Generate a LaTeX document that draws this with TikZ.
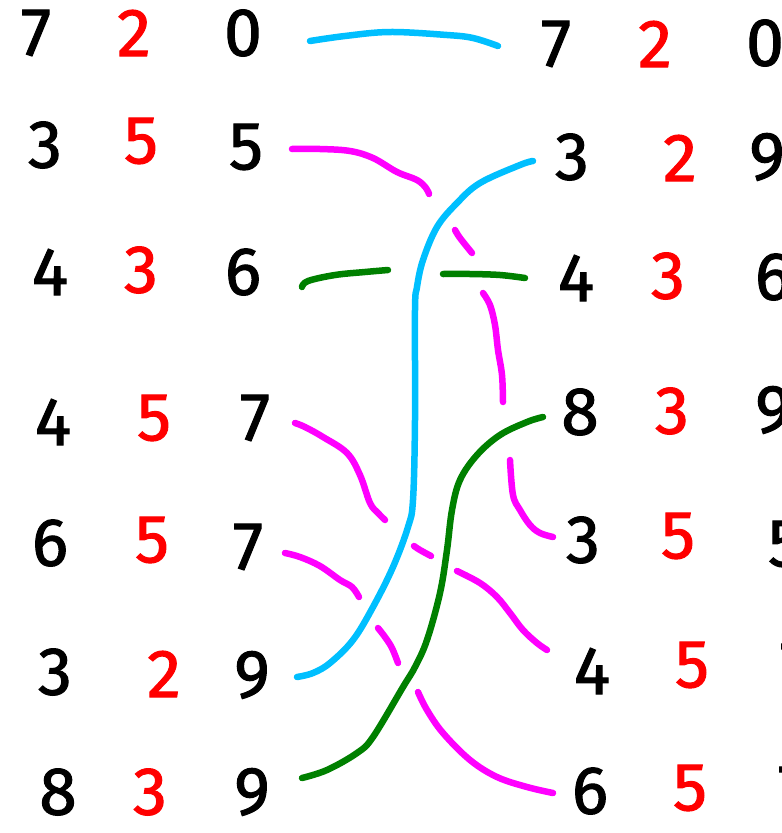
\documentclass[tikz,border=0pt]{standalone}
\usepackage{fontspec}
\setmainfont{Fira Sans}
\newfontfamily\digitfont{Fira Sans}[FakeBold=1.5]
\definecolor{linkcyan}{HTML}{00BFFF}
\definecolor{linkmag}{HTML}{FF00FF}
\definecolor{linkgreen}{HTML}{008000}
\definecolor{keyred}{HTML}{FF0000}
\begin{document}
\begin{tikzpicture}[x=1pt,y=-1pt,
  digit/.style={inner sep=0pt, anchor=center, font=\digitfont\fontsize{68}{68}\selectfont},
  keydigit/.style={digit, text=keyred},
  link/.style={line width=6.5pt, line cap=round, line join=round},
  cyanlink/.style={link, draw=linkcyan},
  maglink/.style={link, draw=linkmag},
  greenlink/.style={link, draw=linkgreen}]
\useasboundingbox (0,0) rectangle (782,833);
\clip (0,0) rectangle (782,833);
% left column
\node[digit] (L11) at (36,33) {7};   \node[keydigit] (L12) at (134,33) {2};  \node[digit] (L13) at (243,33) {0};
\node[digit] (L21) at (45,145) {3};  \node[keydigit] (L22) at (141,141) {5}; \node[digit] (L23) at (246,147) {5};
\node[digit] (L31) at (50,272) {4};  \node[keydigit] (L32) at (141,270) {3}; \node[digit] (L33) at (243,272) {6};
\node[digit] (L41) at (53,422) {4};  \node[keydigit] (L42) at (154,418) {5}; \node[digit] (L43) at (255,418) {7};
\node[digit] (L51) at (50,543) {6};  \node[keydigit] (L52) at (152,540) {5}; \node[digit] (L53) at (248,547) {7};
\node[digit] (L61) at (55,672) {3};  \node[keydigit] (L62) at (164,674) {2}; \node[digit] (L63) at (252,675) {9};
\node[digit] (L71) at (58,792) {8};  \node[keydigit] (L72) at (150,792) {3}; \node[digit] (L73) at (252,792) {9};
% right column
\node[digit] (R11) at (556,44) {7};  \node[keydigit] (R12) at (655,44) {2};  \node[digit] (R13) at (765,43) {0};
\node[digit] (R21) at (572,157) {3}; \node[keydigit] (R22) at (680,158) {2}; \node[digit] (R23) at (767,157) {9};
\node[digit] (R31) at (576,278) {4}; \node[keydigit] (R32) at (668,276) {3}; \node[digit] (R33) at (773,277) {6};
\node[digit] (R41) at (580,412) {8}; \node[keydigit] (R42) at (672,411) {3}; \node[digit] (R43) at (773,410) {9};
\node[digit] (R51) at (583,540) {3}; \node[keydigit] (R52) at (678,536) {5}; \node[digit] (R53) at (785,544) {5};
\node[digit] (R61) at (592,671) {4}; \node[keydigit] (R62) at (692,665) {5}; \node[digit] (R63) at (795,667) {7};
\node[digit] (R71) at (590,791) {6}; \node[keydigit] (R72) at (690,788) {5}; \node[digit] (R73) at (793,790) {7};
% 720 -> 720
\draw[cyanlink] plot[smooth, tension=0.6] coordinates {([shift={(67,8)}]L13.center) (345,36) (390,32) (447,35) (473,38) ([shift={(-58,2)}]R11.center)};
% 329 -> 329
\draw[cyanlink] plot[smooth, tension=0.6] coordinates {([shift={(45,2)}]L63.center) (313,673) (330,663) (353,640) (373,607) (393,567) (408,527) (413,500) (415,420) (415,310) (417,287) (423,260) (437,227) (457,203) (480,183) (520,165) ([shift={(-39,4)}]R21.center)};
% 436 -> 436
\draw[greenlink] plot[smooth, tension=0.6] coordinates {([shift={(59,15)}]L33.center) (308,281) (335,275) (365,272) (388,270)}
  plot[smooth, tension=0.6] coordinates {(443,274) (470,274) (500,275) ([shift={(-51,0)}]R31.center)};
% 839 -> 839
\draw[greenlink] plot[smooth, tension=0.6] coordinates {([shift={(50,-14)}]L73.center) (327,770) (357,753) (373,737) (403,687) (415,667) (427,640) (440,593) (447,550) (452,510) (460,480) (477,455) (500,435) (527,422) ([shift={(-37,5)}]R41.center)};
% 355 -> 355
\draw[maglink] plot[smooth, tension=0.6] coordinates {([shift={(46,2)}]L23.center) (320,149) (350,151) (373,158) (397,172) (417,180) (426,188) (429,194)}
  plot[smooth, tension=0.6] coordinates {(455,230) (460,238) (472,253)}
  plot[smooth, tension=0.6] coordinates {(483,293) (490,305) (495,325) (498,350) (502,375) (503,402)}
  plot[smooth, tension=0.6] coordinates {(510,460) (513,495) (520,510) (530,525) (540,533) ([shift={(-30,-3)}]R51.center)};
% 457 -> 457
\draw[maglink] plot[smooth, tension=0.6] coordinates {([shift={(40,5)}]L43.center) (305,427) (323,437) (347,453) (360,475) (370,503) (378,513) (385,520)}
  plot[smooth, tension=0.6] coordinates {(414,546) (420,550) (431,556)}
  plot[smooth, tension=0.6] coordinates {(457,571) (480,583) (497,597) (510,613) (523,630) (537,643) ([shift={(-45,-21)}]R61.center)};
% 657 -> 657
\draw[maglink] plot[smooth, tension=0.6] coordinates {([shift={(37,6)}]L53.center) (300,557) (320,566) (340,580) (352,587) (359,597)}
  plot[smooth, tension=0.6] coordinates {(378,628) (385,637) (392,648) (398,663)}
  plot[smooth, tension=0.6] coordinates {(418,692) (427,710) (443,733) (470,760) (497,777) (527,787) ([shift={(-37,2)}]R71.center)};
\end{tikzpicture}
\end{document}
